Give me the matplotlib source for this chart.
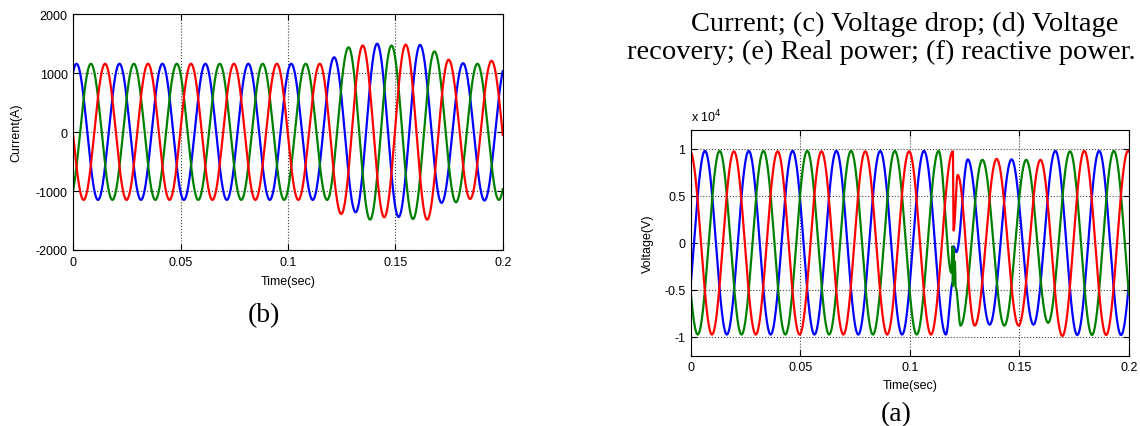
import numpy as np
import matplotlib
matplotlib.use("Agg")
import matplotlib.pyplot as plt

# half period of a 50 Hz wave, extrema are one half period apart
half_period = 0.01

# ---- (b) current, values of successive peaks/troughs (A)
cur_blue_t0 = -0.0085
cur_blue = [-1150, 1160, -1150, 1160, -1150, 1160, -1150, 1160, -1150, 1160, -1150, 1160,
            -1150, 1270, -1360, 1500, -1440, 1480, -1200, 1170, -1160, 1160]
cur_green_t0 = -0.0018
cur_green = [-1150, 1160, -1150, 1160, -1150, 1160, -1150, 1160, -1150, 1160, -1150, 1160,
             -1150, 1440, -1485, 1470, -1475, 1370, -1190, 1160, -1150, 1160]
cur_red_t0 = -0.0052
cur_red = [1160, -1150, 1160, -1150, 1160, -1150, 1160, -1150, 1160, -1150, 1160, -1150,
           1160, -1390, 1470, -1445, 1485, -1485, 1230, -1135, 1210, -1150]

# ---- (a) voltage, in units of 1e4 V
vol_blue_t0 = -0.0036
vol_blue = [-0.975, 0.975, -0.975, 0.975, -0.975, 0.975, -0.975, 0.975, -0.975, 0.975, -0.975, 0.975,
            -0.975, 0.885, -0.87, 0.885, -0.87, 0.975, -0.98, 0.975, -0.98, 0.975]
vol_green_t0 = -0.0069
vol_green = [0.975, -0.975, 0.975, -0.975, 0.975, -0.975, 0.975, -0.975, 0.975, -0.975, 0.975, -0.975,
             0.975, -0.88, 0.88, -0.88, 0.88, -0.85, 0.97, -0.98, 0.975, -0.975]
vol_red_t0 = -0.0004
vol_red = [0.97, -0.975, 0.97, -0.975, 0.97, -0.975, 0.97, -0.975, 0.97, -0.975, 0.97, -0.975,
           0.97, -0.88, 0.89, -0.88, 0.88, -0.99, 0.975, -0.98, 0.975, -0.975]

# disturbance at the fault instant (t ~ 0.12 s)
vol_blue_glitch_t = [0.1196, 0.1199, 0.1212]
vol_blue_glitch_v = [-0.42, -0.04, -0.10]
vol_green_glitch_t = [0.1190, 0.1193, 0.1196, 0.1199, 0.1202, 0.1205, 0.1209]
vol_green_glitch_v = [-0.32, -0.04, -0.46, -0.06, -0.44, -0.20, -0.48]
vol_red_glitch_t = [0.1199, 0.1218]
vol_red_glitch_v = [0.13, 0.72]

xticks = [0, 0.05, 0.1, 0.15, 0.2]
cur_yticks = [-2000, -1000, 0, 1000, 2000]
vol_yticks = [-1, -0.5, 0, 0.5, 1]

colors = {"blue": "#0000ff", "green": "#008000", "red": "#ff0000"}


def wave(t0, values, t, extra_t=(), extra_v=()):  # join the read extrema with half-cosine pieces
    ext_t = list(t0 + half_period * np.arange(len(values))) + list(extra_t)
    ext_v = list(values) + list(extra_v)
    order = np.argsort(ext_t)
    ext_t = np.array(ext_t)[order]
    ext_v = np.array(ext_v)[order]
    i = np.clip(np.searchsorted(ext_t, t, side="right") - 1, 0, len(ext_t) - 2)
    f = (t - ext_t[i]) / (ext_t[i + 1] - ext_t[i])
    return ext_v[i + 1] + (ext_v[i] - ext_v[i + 1]) * (1 + np.cos(np.pi * f)) / 2


def style(ax):
    ax.set_xlim(0, 0.2)
    ax.set_xticks(xticks)
    ax.set_xticklabels(["0", "0.05", "0.1", "0.15", "0.2"])
    ax.grid(True, linestyle=":", color="0.25", linewidth=0.8)
    ax.tick_params(direction="in", top=True, right=True, length=4, labelsize=9, pad=4)
    for s in ax.spines.values():
        s.set_linewidth(0.8)


plt.rcParams["font.family"] = ["Liberation Sans", "DejaVu Sans"]
plt.rcParams["axes.unicode_minus"] = False
t = np.linspace(0, 0.2, 4001)

fig = plt.figure(figsize=(11.4, 4.27), dpi=100)

# ---- left: current
ax1 = fig.add_axes([0.0643, 0.4122, 0.3767, 0.5520])
ax1.plot(t, wave(cur_blue_t0, cur_blue, t), color=colors["blue"], lw=1.6)
ax1.plot(t, wave(cur_green_t0, cur_green, t), color=colors["green"], lw=1.6)
ax1.plot(t, wave(cur_red_t0, cur_red, t), color=colors["red"], lw=1.6)
style(ax1)
ax1.set_ylim(-2000, 2000)
ax1.set_yticks(cur_yticks)
ax1.set_xlabel("Time(sec)", fontsize=9)
ax1.set_ylabel("Current(A)", fontsize=9)
ax1.xaxis.set_label_coords(0.5, -0.105)
ax1.yaxis.set_label_coords(-0.118, 0.5)

# ---- right: voltage
ax2 = fig.add_axes([0.6061, 0.1646, 0.3842, 0.5293])
ax2.plot(t, wave(vol_blue_t0, vol_blue, t, vol_blue_glitch_t, vol_blue_glitch_v), color=colors["blue"], lw=1.6)
ax2.plot(t, wave(vol_green_t0, vol_green, t, vol_green_glitch_t, vol_green_glitch_v), color=colors["green"], lw=1.6)
ax2.plot(t, wave(vol_red_t0, vol_red, t, vol_red_glitch_t, vol_red_glitch_v), color=colors["red"], lw=1.6)
style(ax2)
ax2.set_ylim(-1.2, 1.2)
ax2.set_yticks(vol_yticks)
ax2.set_yticklabels(["-1", "-0.5", "0", "0.5", "1"])
ax2.set_xlabel("Time(sec)", fontsize=9)
ax2.set_ylabel("Voltage(V)", fontsize=9)
ax2.xaxis.set_label_coords(0.5, -0.103)
ax2.yaxis.set_label_coords(-0.085, 0.5)
ax2.text(0.0, 1.025, r"x 10$^{4}$", transform=ax2.transAxes, ha="left", va="bottom", fontsize=9)

# ---- caption text of the page (the second line runs past the right edge, as in the page crop)
serif = ["Liberation Serif", "DejaVu Serif"]
fig.text(264 / 1140, 1 - 316 / 427, "(b)", ha="center", va="center", fontsize=20, family=serif)
fig.text(896 / 1140, 1 - 415 / 427, "(a)", ha="center", va="center", fontsize=20, family=serif)
fig.text(905 / 1140, 1 - 31 / 427, "Current; (c) Voltage drop; (d) Voltage",
         ha="center", va="baseline", fontsize=20.5, family=serif)
fig.text(627 / 1140, 1 - 59 / 427, "recovery; (e) Real power; (f) reactive power.",
         ha="left", va="baseline", fontsize=20.5, family=serif)

fig.savefig("out.png", dpi=100)
